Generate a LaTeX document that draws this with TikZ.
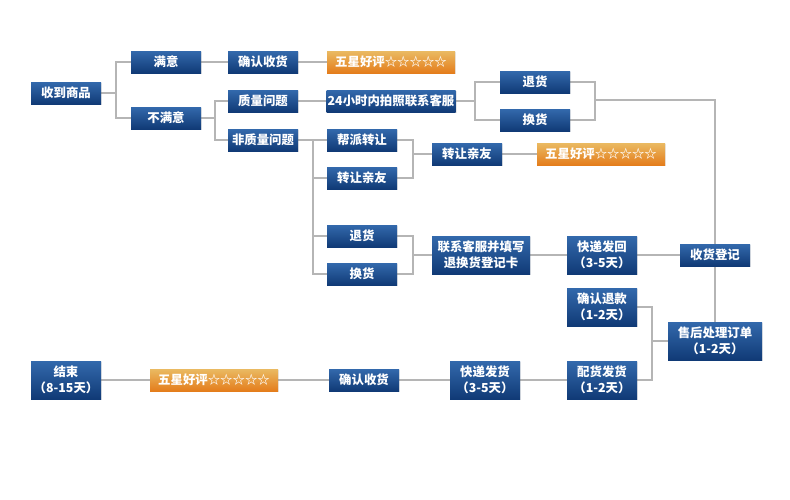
\documentclass[tikz,border=0pt]{standalone}
\usepackage{fontspec}
\newfontfamily\cjk{Noto Sans CJK SC}
\usetikzlibrary{backgrounds,shadows}
\definecolor{btop}{HTML}{3369AC}
\definecolor{bbot}{HTML}{103A76}
\definecolor{otop}{HTML}{EABA62}
\definecolor{obot}{HTML}{E47D1C}
\definecolor{lgray}{HTML}{B5B5B5}
\tikzset{
  box/.style={minimum width=52.5pt, minimum height=16.5pt, inner sep=0pt, text=white,
    align=center, font=\cjk\bfseries\fontsize{9.3}{12}\selectfont,
    top color=btop, bottom color=bbot,
    drop shadow={opacity=0.18, shadow xshift=0.8pt, shadow yshift=-0.8pt}},
  tall/.style={minimum height=28.5pt},
  orange/.style={top color=otop, bottom color=obot, minimum width=96pt},
  conn/.style={draw=lgray, line width=2pt}
}
\begin{document}
\begin{tikzpicture}[x=0.75pt,y=-0.75pt]
\useasboundingbox (0,0) rectangle (790,500);
% nodes
\node[box] (recv) at (66,93) {收到商品};
\node[box] (sat) at (166,62) {满意};
\node[box] (unsat) at (166,118) {不满意};
\node[box] (conf1) at (263,62) {确认收货};
\node[box,orange] (star1) at (391,62) {五星好评☆☆☆☆☆};
\node[box] (qual) at (263,101) {质量问题};
\node[box] (nonq) at (263,140) {非质量问题};
\node[box,minimum width=96.75pt] (photo) at (391,101) {24小时内拍照联系客服};
\node[box] (ret1) at (535,82) {退货};
\node[box] (exc1) at (535,120) {换货};
\node[box] (gang) at (362,140) {帮派转让};
\node[box] (fri1) at (362,178) {转让亲友};
\node[box] (fri2) at (467,154) {转让亲友};
\node[box,orange] (star2) at (601,154) {五星好评☆☆☆☆☆};
\node[box] (ret2) at (362,236) {退货};
\node[box] (exc2) at (362,274) {换货};
\node[box,tall,minimum width=73.5pt] (contact) at (481,255) {联系客服并填写\\退换货登记卡};
\node[box,tall] (sendback) at (602,255) {快递发回\\（3-5天）};
\node[box] (reg) at (715,255) {收货登记};
\node[box,tall] (refund) at (602,307) {确认退款\\（1-2天）};
\node[box,tall,minimum width=70.5pt] (after) at (715,341) {售后处理订单\\（1-2天）};
\node[box,tall] (dist) at (602,380) {配货发货\\（1-2天）};
\node[box,tall] (ship) at (485,380) {快递发货\\（3-5天）};
\node[box] (conf2) at (364,380) {确认收货};
\node[box,orange] (star3) at (214,380) {五星好评☆☆☆☆☆};
\node[box,tall] (end) at (66,380) {结束\\（8-15天）};
% junctions
\coordinate (j1) at (116,93);
\coordinate (j2) at (215,118);
\coordinate (j3) at (475,101);
\coordinate (j4) at (595,100);
\coordinate (j5) at (715,100);
\coordinate (j6) at (313,140);
\coordinate (j7) at (413,154);
\coordinate (j8) at (413,255);
\coordinate (j9) at (652,341);
\begin{pgfonlayer}{background}
\draw[conn] (recv) -- (j1);
\draw[conn] (sat) -| (j1) |- (unsat);
\draw[conn] (sat) -- (conf1) -- (star1);
\draw[conn] (unsat) -- (j2);
\draw[conn] (qual) -| (j2) |- (nonq);
\draw[conn] (qual) -- (photo);
\draw[conn] (photo) -- (j3);
\draw[conn] (ret1) -| (j3) |- (exc1);
\draw[conn] (ret1) -| (j4) |- (exc1);
\draw[conn] (j4) -- (j5) -- (reg);
\draw[conn] (reg) -- (after);
\draw[conn] (nonq) -- (gang);
\draw[conn] (j6) |- (exc2);
\draw[conn] (j6 |- fri1) -- (fri1);
\draw[conn] (j6 |- ret2) -- (ret2);
\draw[conn] (gang) -| (j7) |- (fri1);
\draw[conn] (j7) -- (fri2) -- (star2);
\draw[conn] (ret2) -| (j8) |- (exc2);
\draw[conn] (j8) -- (contact) -- (sendback) -- (reg);
\draw[conn] (after) -- (j9);
\draw[conn] (refund) -| (j9) |- (dist);
\draw[conn] (dist) -- (ship) -- (conf2) -- (star3) -- (end);
\end{pgfonlayer}
\end{tikzpicture}
\end{document}
